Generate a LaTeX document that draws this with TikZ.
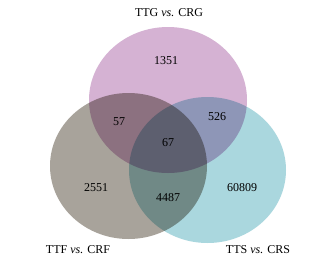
\documentclass[tikz,border=0pt]{standalone}
\usepackage{fontspec}
\setmainfont{Liberation Serif}
\usepackage{xcolor}
\usepackage{tikz}

\definecolor{setG}{RGB}{213,178,211}
\definecolor{setF}{RGB}{168,163,155}
\definecolor{setS}{RGB}{170,215,222}

\begin{document}
\begin{tikzpicture}[x=1pt,y=-1pt,
    set/.style={blend mode=multiply},
    num/.style={font=\fontsize{12}{14}\selectfont,inner sep=1pt}]
    \useasboundingbox[fill=white] (0,0) rectangle (335,263);

    % the three sets
    \fill[set,fill=setG] (168,100) ellipse [x radius=79pt,y radius=73pt];
    \fill[set,fill=setF] (128.5,166) ellipse [x radius=78.5pt,y radius=73pt];
    \fill[set,fill=setS] (207.5,170) ellipse [x radius=78.5pt,y radius=73pt];

    % set names
    \node[num] (ttg) at (169,13) {TTG \textit{vs.} CRG};
    \node[num] (ttf) at (78,250) {TTF \textit{vs.} CRF};
    \node[num] (tts) at (258,250) {TTS \textit{vs.} CRS};

    % counts
    \node[num] (onlyG) at (166,61) {1351};
    \node[num] (GF) at (119,122) {57};
    \node[num] (GS) at (217,117) {526};
    \node[num] (GFS) at (168,143) {67};
    \node[num] (onlyF) at (96,188) {2551};
    \node[num] (FS) at (168,198) {4487};
    \node[num] (onlyS) at (242,188) {60809};
\end{tikzpicture}
\end{document}
